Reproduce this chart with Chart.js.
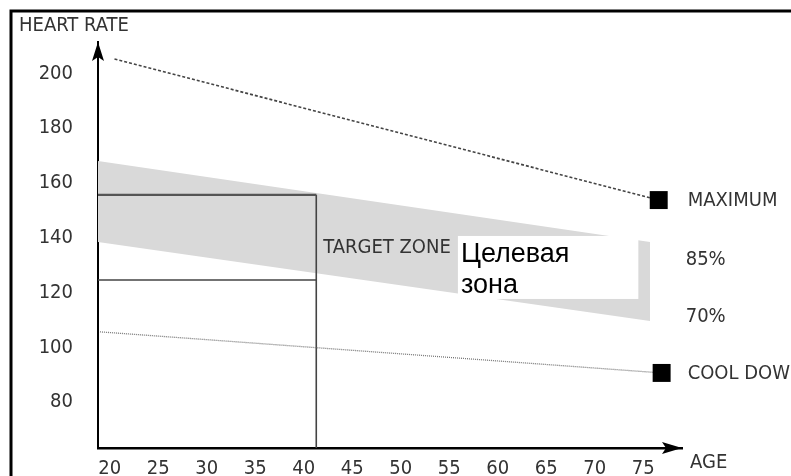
<!DOCTYPE html>
<html><head><meta charset="utf-8">
<script src="https://cdn.jsdelivr.net/npm/chart.js@4"></script>
<style>html,body{margin:0;padding:0;background:#fff;}canvas{display:block}</style>
</head><body>
<canvas id="c" width="791" height="476"></canvas>
<script>
// ---- data ----
const ageTicks = [20, 25, 30, 35, 40, 45, 50, 55, 60, 65, 70, 75];
const rateTicks = [80, 100, 120, 140, 160, 180, 200];
const maximumLine = [{x: 20.5, y: 205.3}, {x: 76.6, y: 153.8}];
const coolDownLine = [{x: 19.0, y: 105.7}, {x: 76.9, y: 90.7}];
const zone85 = [{x: 18.8, y: 168.1}, {x: 75.7, y: 138.5}];
const zone70 = [{x: 18.8, y: 138.5}, {x: 75.7, y: 109.7}];
const age40Top = [{x: 18.8, y: 155.7}, {x: 41.3, y: 155.7}];
const age40Mid = [{x: 18.8, y: 124.6}, {x: 41.3, y: 124.6}];
const age40Vert = [{x: 41.3, y: 155.7}, {x: 41.3, y: 63.3}];
const russianBox = {x0: 55.9, x1: 74.5, y0: 140.7, y1: 117.7};
const xRange = [18.8, 79.0];
const yRange = [63.3, 211.5];

const NARROW = "'Liberation Sans Narrow','DejaVu Sans Condensed',sans-serif";
const TXT = '#333';

const decor = {
  id: 'decor',
  beforeDraw(chart) {
    const ctx = chart.ctx;
    ctx.save();
    ctx.fillStyle = '#fff';
    ctx.fillRect(0, 0, chart.width, chart.height);
    ctx.restore();
  },
  afterDatasetsDraw(chart) {
    const ctx = chart.ctx, xs = chart.scales.x, ys = chart.scales.y, a = chart.chartArea;
    ctx.save();
    // white label box
    const bx0 = xs.getPixelForValue(russianBox.x0), bx1 = xs.getPixelForValue(russianBox.x1);
    const by0 = ys.getPixelForValue(russianBox.y0), by1 = ys.getPixelForValue(russianBox.y1);
    ctx.fillStyle = '#fff';
    ctx.fillRect(bx0, by0, bx1 - bx0, by1 - by0);
    ctx.fillStyle = '#000';
    ctx.font = "27px 'Liberation Sans',Arial,sans-serif";
    ctx.textBaseline = 'alphabetic';
    ctx.textAlign = 'left';
    ctx.fillText('Целевая', bx0 + 3, by0 + 26);
    ctx.fillText('зона', bx0 + 3, by0 + 57);

    // texts
    ctx.fillStyle = TXT;
    ctx.font = '20px ' + NARROW;
    ctx.textBaseline = 'middle';
    ctx.fillText('HEART RATE', 19, 26);
    ctx.fillText('AGE', a.right + 8, 463);
    const mEnd = maximumLine[maximumLine.length - 1];
    ctx.fillText('MAXIMUM', xs.getPixelForValue(mEnd.x) + 29, ys.getPixelForValue(mEnd.y) + 1);
    const cEnd = coolDownLine[coolDownLine.length - 1];
    ctx.fillText('COOL DOWN', xs.getPixelForValue(cEnd.x) + 26, ys.getPixelForValue(cEnd.y) + 1);
    ctx.fillText('85%', xs.getPixelForValue(mEnd.x) + 27, ys.getPixelForValue(131.9));
    ctx.fillText('70%', xs.getPixelForValue(mEnd.x) + 27, ys.getPixelForValue(111.1));
    ctx.fillText('TARGET ZONE', xs.getPixelForValue(41.3) + 7, ys.getPixelForValue(136.5));

    // arrow heads
    ctx.fillStyle = '#000';
    ctx.beginPath();
    ctx.moveTo(a.left, a.top);
    ctx.lineTo(a.left - 6, a.top + 19);
    ctx.lineTo(a.left, a.top + 15);
    ctx.lineTo(a.left + 6, a.top + 19);
    ctx.closePath();
    ctx.fill();
    ctx.beginPath();
    ctx.moveTo(a.right, a.bottom);
    ctx.lineTo(a.right - 20, a.bottom - 6);
    ctx.lineTo(a.right - 16, a.bottom);
    ctx.lineTo(a.right - 20, a.bottom + 6);
    ctx.closePath();
    ctx.fill();

    // frame
    ctx.strokeStyle = '#000';
    ctx.lineWidth = 3;
    ctx.strokeRect(11, 11, chart.width + 20, chart.height + 20);
    ctx.restore();
  }
};

const lineDs = (data, color, width, dash, extra) => Object.assign({
  data, showLine: true, borderColor: color, borderWidth: width, borderDash: dash,
  pointRadius: 0, fill: false, tension: 0
}, extra || {});

new Chart(document.getElementById('c'), {
  type: 'scatter',
  data: {
    datasets: [
      lineDs(maximumLine, '#444', 1.6, [3, 2], {pointRadius: [0, 12.7], pointStyle: 'rect', pointBackgroundColor: '#000', pointBorderWidth: 0, order: 1}),
      lineDs(coolDownLine, '#777', 1.3, [1, 1], {pointRadius: [0, 12.7], pointStyle: 'rect', pointBackgroundColor: '#000', pointBorderWidth: 0, order: 1}),
      lineDs(age40Top, '#555', 2.2, [], {order: 2}),
      lineDs(age40Mid, '#444', 1.6, [], {order: 2}),
      lineDs(age40Vert, '#444', 1.6, [], {order: 2}),
      lineDs(zone85, 'rgba(0,0,0,0)', 0, [], {fill: '+1', backgroundColor: '#d9d9d9', order: 10}),
      lineDs(zone70, 'rgba(0,0,0,0)', 0, [], {order: 10})
    ]
  },
  options: {
    responsive: false,
    animation: false,
    events: [],
    layout: {padding: {left: 0, top: 42, right: 109, bottom: 0}},
    plugins: {legend: {display: false}, tooltip: {enabled: false}},
    scales: {
      x: {
        type: 'linear', min: xRange[0], max: xRange[1],
        afterBuildTicks: s => { s.ticks = ageTicks.map(v => ({value: v})); },
        afterFit: s => { s.height = 28; s.paddingLeft = 0; s.paddingRight = 0; },
        grid: {display: false, drawTicks: false},
        border: {display: true, color: '#000', width: 2.5},
        ticks: {font: {family: NARROW, size: 20}, color: TXT, padding: 9, maxRotation: 0, autoSkip: false}
      },
      y: {
        type: 'linear', min: yRange[0], max: yRange[1],
        afterBuildTicks: s => { s.ticks = rateTicks.map(v => ({value: v})); },
        afterFit: s => { s.width = 98; s.paddingTop = 0; s.paddingBottom = 0; },
        grid: {display: false, drawTicks: false},
        border: {display: true, color: '#000', width: 2},
        ticks: {font: {family: NARROW, size: 20}, color: TXT, padding: 25, autoSkip: false}
      }
    }
  },
  plugins: [decor]
});
</script>
</body></html>
